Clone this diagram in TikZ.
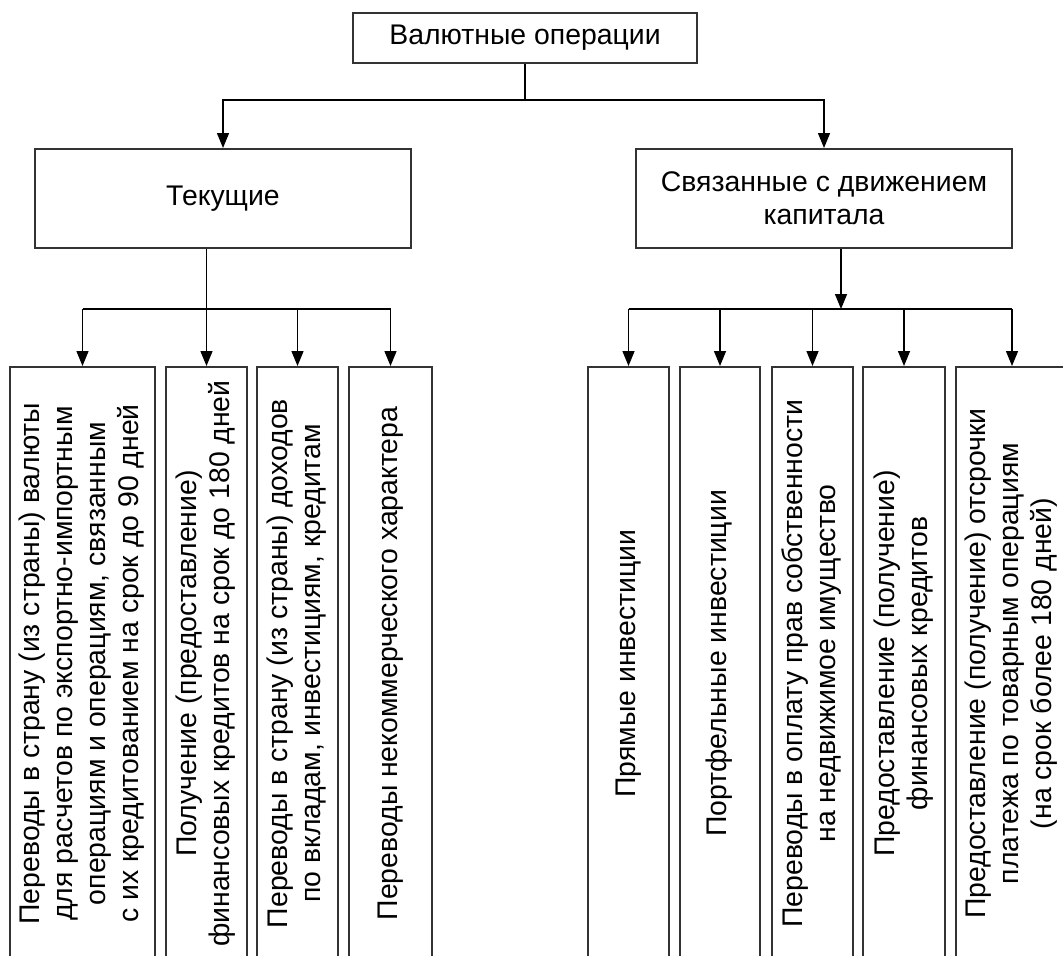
\documentclass[tikz,border=0pt]{standalone}
\usepackage{fontspec}
\setmainfont{Liberation Sans}
\usetikzlibrary{arrows.meta}
\newcommand{\vlabel}[1]{\rotatebox{90}{\begin{tabular}{@{}c@{}}#1\end{tabular}}}
\begin{document}
\begin{tikzpicture}[x=0.5pt,y=-0.5pt,
  box/.style={draw=black!80,line width=1pt,fill=white,inner sep=0pt,align=center,
    font=\fontsize{14.2}{16.5}\selectfont},
  arr/.style={line width=0.7pt,-{Triangle[length=7.5pt,width=6pt]}},
  link/.style={line width=0.7pt}]
\path[fill=white,use as bounding box] (0,0) rectangle (1063,955);
\clip (0,0) rectangle (1063,955);
% upper levels
\node[box,minimum width=172pt,minimum height=25pt] (top) at (525,38) {Валютные операции};
\node[box,minimum width=188pt,minimum height=49.5pt] (cur) at (223,198.5) {Текущие};
\node[box,minimum width=188pt,minimum height=49.5pt] (cap) at (824,198.5) {Связанные с движением\\капитала};
% lower level, left
\node[box,minimum width=72.5pt,minimum height=296.5pt] (b1) at (82.5,663.5)
  {\vlabel{Переводы в страну (из страны) валюты\\для расчетов по экспортно-импортным\\операциям и операциям, связанным\\с их кредитованием на срок до 90 дней}};
\node[box,minimum width=40.5pt,minimum height=296.5pt] (b2) at (206.5,663.5)
  {\vlabel{Получение (предоставление)\\финансовых кредитов на срок до 180 дней}};
\node[box,minimum width=40.5pt,minimum height=296.5pt] (b3) at (297.5,663.5)
  {\vlabel{Переводы в страну (из страны) доходов\\по вкладам, инвестициям, кредитам}};
\node[box,minimum width=41.5pt,minimum height=296.5pt] (b4) at (390.5,663.5)
  {\vlabel{Переводы некоммерческого характера}};
% lower level, right
\node[box,minimum width=40.5pt,minimum height=296.5pt] (b5) at (628.5,663.5)
  {\vlabel{Прямые инвестиции}};
\node[box,minimum width=40pt,minimum height=296.5pt] (b6) at (720,663.5)
  {\vlabel{Портфельные инвестиции}};
\node[box,minimum width=40.5pt,minimum height=296.5pt] (b7) at (812.5,663.5)
  {\vlabel{Переводы в оплату прав собственности\\на недвижимое имущество}};
\node[box,minimum width=41pt,minimum height=296.5pt] (b8) at (904,663.5)
  {\vlabel{Предоставление (получение)\\финансовых кредитов}};
\node[box,minimum width=56pt,minimum height=296.5pt] (b9) at (1012,663.5)
  {\vlabel{Предоставление (получение) отсрочки\\платежа по товарным операциям\\(на срок более 180 дней)}};
% connectors
\draw[link] (top.south) -- ++(0,36) coordinate (j0);
\draw[arr] (j0) -| (cur.north);
\draw[arr] (j0) -| (cap.north);
\coordinate (jl) at (0,309);
\coordinate (jr) at (0,309);
\draw[arr] (cur.south -| b2.north) -- (b2.north);
\draw[link] (b1.north |- jl) -- (b4.north |- jl);
\foreach \b in {b1,b3,b4}
  \draw[arr] (\b.north |- jl) -- (\b.north);
\draw[arr] ([xshift=8.5pt]cap.south) -- ([xshift=8.5pt]cap.south |- jr);
\draw[link] (b5.north |- jr) -- (b9.north |- jr);
\foreach \b in {b5,b6,b7,b8,b9}
  \draw[arr] (\b.north |- jr) -- (\b.north);
\end{tikzpicture}
\end{document}
